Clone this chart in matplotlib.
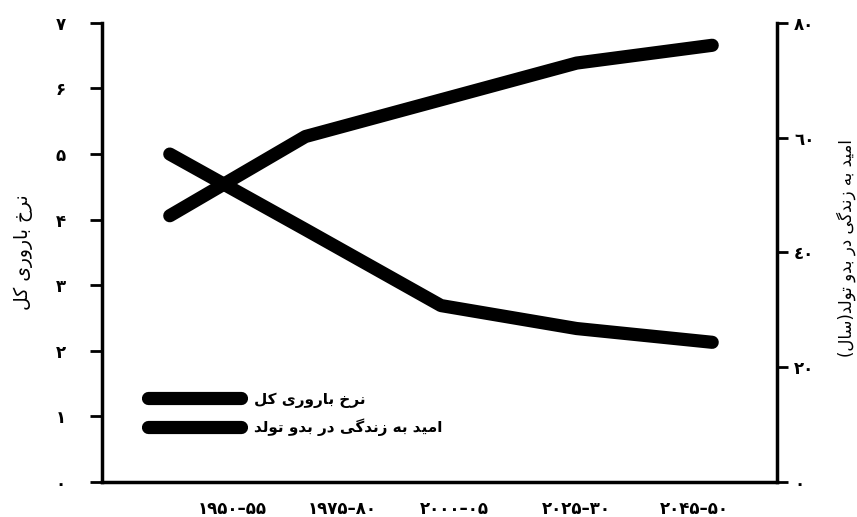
import matplotlib
matplotlib.use('Agg')
import matplotlib.pyplot as plt

# periods (display labels) and the two series
periods = ['۱۹۵۰–۵۵', '۱۹۷۵–۸۰', '۲۰۰۰–۰۵', '۲۰۲۵–۳۰', '۲۰۴۵–۵۰']
fertility = [5.0, 3.85, 2.69, 2.34, 2.13]
life_exp = [46.4, 60.2, 66.6, 73.0, 76.1]

left_ticks = [0, 1, 2, 3, 4, 5, 6, 7]
left_labels = ['۰', '۱', '۲', '۳', '۴', '۵', '۶', '۷']
right_ticks = [0, 20, 40, 60, 80]
right_labels = ['۰', '۲۰', '٤۰', '٦۰', '۸۰']

fert_name = 'نرخ باروری کل'
life_name = 'امید به زندگی در بدو تولد'
right_axis_name = 'امید به زندگی در بدو تولد(سال)'

# matplotlib has no arabic shaping, so do it by hand with presentation forms
FORMS = {
    'ا': ('\uFE8D', '\uFE8E', None, None),
    'ب': ('\uFE8F', '\uFE90', '\uFE91', '\uFE92'),
    'ت': ('\uFE95', '\uFE96', '\uFE97', '\uFE98'),
    'خ': ('\uFEA5', '\uFEA6', '\uFEA7', '\uFEA8'),
    'د': ('\uFEA9', '\uFEAA', None, None),
    'ر': ('\uFEAD', '\uFEAE', None, None),
    'ز': ('\uFEAF', '\uFEB0', None, None),
    'س': ('\uFEB1', '\uFEB2', '\uFEB3', '\uFEB4'),
    'ک': ('\uFB8E', '\uFB8F', '\uFB90', '\uFB91'),
    'گ': ('\uFB92', '\uFB93', '\uFB94', '\uFB95'),
    'ل': ('\uFEDD', '\uFEDE', '\uFEDF', '\uFEE0'),
    'م': ('\uFEE1', '\uFEE2', '\uFEE3', '\uFEE4'),
    'ن': ('\uFEE5', '\uFEE6', '\uFEE7', '\uFEE8'),
    'ه': ('\uFEE9', '\uFEEA', '\uFEEB', '\uFEEC'),
    'و': ('\uFEED', '\uFEEE', None, None),
    'ی': ('\uFBFC', '\uFBFD', '\uFBFE', '\uFBFF'),
}


def fa(s):
    out = []
    for i, c in enumerate(s):
        if c not in FORMS:
            out.append(c)
            continue
        prev = s[i - 1] if i > 0 else None
        nxt = s[i + 1] if i + 1 < len(s) else None
        jp = prev in FORMS and FORMS[prev][2] is not None
        jn = nxt in FORMS and FORMS[c][2] is not None
        iso, fin, ini, med = FORMS[c]
        if jp and jn:
            out.append(med)
        elif jp:
            out.append(fin)
        elif jn:
            out.append(ini)
        else:
            out.append(iso)
    vis = ''.join(reversed(out))
    return vis.translate(str.maketrans('()', ')('))


plt.rcParams['font.family'] = ['DejaVu Sans']

fig = plt.figure(figsize=(8.57, 5.17), dpi=100)
ax = fig.add_axes([0.119, 0.0677, 0.788, 0.888])
ax2 = ax.twinx()

x = list(range(len(periods)))
l1, = ax.plot(x, fertility, color='black', lw=9.5,
              solid_capstyle='round', solid_joinstyle='round')
l2, = ax2.plot(x, life_exp, color='black', lw=9.5,
               solid_capstyle='round', solid_joinstyle='round')

ax.set_xlim(-0.5, 4.48)
ax.set_ylim(0, 7)
ax2.set_ylim(0, 80)

# period labels sit offset from the data points in the original
ax.set_xticks([0.46, 1.27, 2.10, 3.00, 3.87])
ax.set_xticklabels(periods, fontsize=12, fontweight='bold')
ax.tick_params(axis='x', length=0, pad=13)

ax.set_yticks(left_ticks)
ax.set_yticklabels(left_labels, fontsize=12, fontweight='bold')
ax.tick_params(axis='y', direction='out', length=9, width=2, pad=17)

ax2.set_yticks(right_ticks)
ax2.set_yticklabels(right_labels, fontsize=12, fontweight='bold')
ax2.tick_params(axis='y', direction='out', length=8, width=2, pad=4)

for s in ['top', 'right']:
    ax.spines[s].set_visible(False)
for s in ['top', 'left', 'bottom']:
    ax2.spines[s].set_visible(False)
ax.spines['left'].set_linewidth(2.5)
ax.spines['bottom'].set_linewidth(2.5)
ax2.spines['right'].set_linewidth(2.5)

ax.set_ylabel(fa(fert_name), fontsize=13.5, rotation=90)
ax.yaxis.set_label_coords(-0.102, 0.5)
ax2.set_ylabel(fa(right_axis_name), fontsize=12, rotation=90)
ax2.yaxis.set_label_coords(1.087, 0.51)

fig.legend([l1, l2], [fa(fert_name), fa(life_name)],
           loc='upper left', bbox_to_anchor=(0.164, 0.257),
           bbox_transform=fig.transFigure, frameon=False,
           borderpad=0, handlelength=6.1, handletextpad=0.85,
           labelspacing=0.72, prop={'size': 11, 'weight': 'bold'})

plt.savefig('out.png', dpi=100)
plt.close()
